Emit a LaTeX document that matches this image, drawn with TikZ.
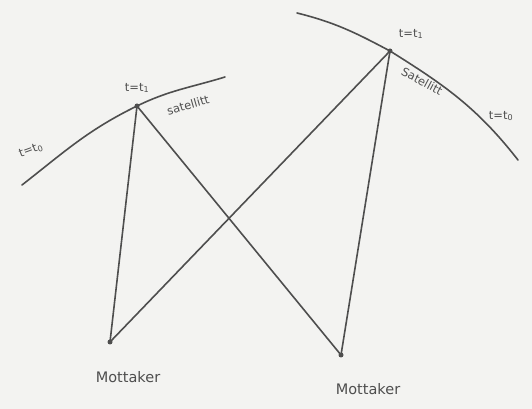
\documentclass[tikz,border=0pt]{standalone}
\usepackage{fontspec}
\setmainfont{DejaVu Sans}
\begin{document}
\begin{tikzpicture}[x=1pt,y=1pt,
  pen/.style={draw=ink, line width=1.6pt, line cap=round},
  lbl/.style={text=ink, inner sep=0pt, font=\fontsize{11.5}{13}\selectfont},
  rcv/.style={text=ink, inner sep=0pt, font=\fontsize{14.5}{16}\selectfont},
  dot/.style={circle, fill=ink, inner sep=0pt, minimum size=5pt}]
\definecolor{ink}{RGB}{78,78,78}
\definecolor{paper}{RGB}{243,243,241}
\fill[paper] (0,0) rectangle (532,409);
\useasboundingbox (0,0) rectangle (532,409);
% satellites and receivers
\node[dot] (S1) at (137,303) {};
\node[dot] (S2) at (390,358) {};
\node[dot] (R1) at (110,67) {};
\node[dot] (R2) at (341,54) {};
\coordinate (L0) at (22,224);
\coordinate (L2) at (225,332);
\coordinate (Q0) at (297,396);
\coordinate (Q2) at (518,249);
% orbits
\draw[pen] (L0) to[out=38,in=206] (S1.center) to[out=26,in=197] (L2);
\draw[pen] (Q0) to[out=-14,in=152] (S2.center) to[out=-32,in=128] (Q2);
% signal paths
\draw[pen] (S1.center) -- (R1.center);
\draw[pen] (S1.center) -- (R2.center);
\draw[pen] (S2.center) -- (R1.center);
\draw[pen] (S2.center) -- (R2.center);
% labels
\node[lbl] (l1) at (137,321) {t=t\textsubscript{1}};
\node[lbl, rotate=16] (l2) at (188,304) {satellitt};
\node[lbl, rotate=20] (l3) at (31,259) {t=t\textsubscript{0}};
\node[lbl] (l4) at (411,375) {t=t\textsubscript{1}};
\node[lbl, rotate=-28] (l5) at (422,328) {Satellitt};
\node[lbl] (l6) at (501,293) {t=t\textsubscript{0}};
\node[rcv] (m1) at (128,32) {Mottaker};
\node[rcv] (m2) at (368,20) {Mottaker};
\end{tikzpicture}
\end{document}
